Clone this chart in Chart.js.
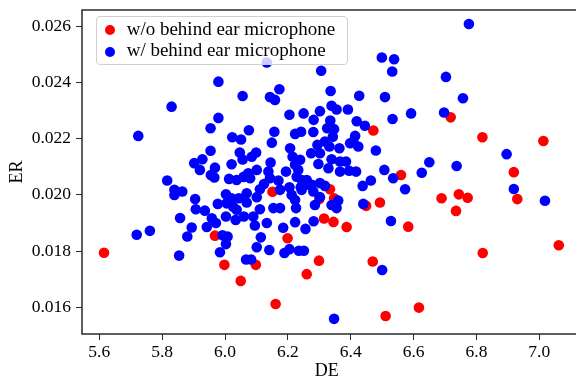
<!DOCTYPE html>
<html>
<head>
<meta charset="utf-8">
<script src="https://cdn.jsdelivr.net/npm/chart.js@4.4.1/dist/chart.umd.min.js"></script>
<style>
   html, body { margin: 0; padding: 0; background: #fff; overflow: hidden; }
   #wrap { position: relative; width: 577px; height: 382px; }
   #scatterChart { display: block; width: 577px; height: 382px; }
   #legend {
      position: absolute; left: 96px; top: 16px; width: 252px; height: 49px;
      box-sizing: border-box; border: 1px solid #d0d0d0; border-radius: 4px;
      background: rgba(255, 255, 255, 0.8);
      font-family: "Liberation Serif", "Times New Roman", serif; font-size: 19px; color: #000;
   }
   .row { position: absolute; left: 0; height: 22px; line-height: 22px; white-space: nowrap; }
   .dot { position: absolute; left: 8px; top: 7.4px; width: 10px; height: 10px; border-radius: 50%; }
   .lbl { position: absolute; left: 29.7px; top: 0; }
</style>
</head>
<body>
<div id="wrap">
   <canvas id="scatterChart" width="577" height="382"></canvas>
   <div id="legend"></div>
</div>
<script>
// series names + colours
const seriesNames = ["w/o behind ear microphone", "w/ behind ear microphone"];
const seriesColors = ["#ff0000", "#0000ff"];

// ticks
const xTickValues = [5.6, 5.8, 6.0, 6.2, 6.4, 6.6, 6.8, 7.0];
const yTickValues = [0.016, 0.018, 0.020, 0.022, 0.024, 0.026];

// w/o behind ear microphone (red)
const deWithout = [6.718, 6.472, 6.560, 6.151, 6.334, 6.300, 6.347, 6.449, 6.493, 6.315, 6.345, 6.387,
   6.583, 6.819, 7.013, 6.919, 6.689, 6.744, 6.772, 6.735, 6.930, 5.968, 5.615, 5.998, 6.050, 6.199,
   6.098, 6.299, 6.260, 6.470, 6.161, 6.511, 6.820, 7.062, 6.617];
const erWithout = [0.02276, 0.02229, 0.02071, 0.02011, 0.02020, 0.01985, 0.01988, 0.01961, 0.01973, 0.01916, 0.01904, 0.01886,
   0.01887, 0.02205, 0.02192, 0.02081, 0.01988, 0.02002, 0.01990, 0.01943, 0.01985, 0.01855, 0.01794, 0.01751, 0.01694, 0.01846,
   0.01751, 0.01766, 0.01718, 0.01763, 0.01612, 0.01569, 0.01793, 0.01821, 0.01599];

// w/ behind ear microphone (blue)
const deWith = [5.979, 6.056, 5.830, 5.979, 6.133, 6.306, 6.499, 6.538, 6.532, 6.173, 6.143, 6.159,
   6.336, 6.427, 6.509, 6.205, 6.250, 6.302, 6.339, 6.355, 6.391, 6.282, 6.335, 6.419, 6.533, 6.592,
   6.776, 6.703, 6.757, 6.697, 5.954, 5.724, 6.023, 6.076, 6.051, 5.954, 6.047, 6.056, 5.902, 5.928,
   5.920, 6.021, 5.968, 5.955, 5.966, 6.013, 6.037, 6.059, 6.080, 5.816, 5.839, 5.864, 5.839, 5.905,
   6.003, 6.021, 6.044, 5.977, 6.005, 6.026, 6.037, 5.907, 5.936, 5.857, 5.958, 5.971, 6.003, 6.034,
   5.894, 5.942, 5.761, 6.060, 6.157, 6.223, 6.242, 6.281, 6.325, 6.347, 6.343, 6.414, 6.408, 6.424,
   6.398, 6.445, 6.149, 6.294, 6.318, 6.332, 6.364, 6.480, 6.207, 6.274, 6.302, 6.215, 6.239, 6.339,
   6.366, 6.385, 6.099, 6.085, 6.145, 6.297, 6.329, 6.366, 6.395, 6.417, 6.223, 6.233, 6.194, 6.138,
   6.101, 6.074, 6.143, 6.170, 6.228, 6.244, 6.260, 6.507, 6.535, 6.464, 6.438, 6.573, 6.124, 6.111,
   6.175, 6.205, 6.241, 6.260, 6.276, 6.302, 6.318, 6.244, 6.281, 6.069, 6.101, 6.212, 6.223, 6.302,
   6.286, 6.339, 6.360, 6.355, 6.111, 6.069, 6.154, 6.175, 6.226, 6.440, 6.090, 6.133, 6.185, 6.223,
   6.256, 6.282, 6.528, 6.095, 6.896, 6.650, 6.737, 6.626, 6.919, 7.018, 5.719, 5.880, 5.992, 6.008,
   6.003, 5.984, 5.854, 6.114, 6.101, 6.141, 6.189, 6.205, 6.235, 6.251, 6.067, 6.083, 6.500, 6.347];
const erWith = [0.02403, 0.02352, 0.02314, 0.02274, 0.02471, 0.02442, 0.02489, 0.02483, 0.02439, 0.02376, 0.02348, 0.02338,
   0.02370, 0.02353, 0.02348, 0.02285, 0.02290, 0.02298, 0.02317, 0.02304, 0.02304, 0.02267, 0.02265, 0.02262, 0.02270, 0.02290,
   0.02608, 0.02420, 0.02344, 0.02293, 0.02237, 0.02210, 0.02205, 0.02230, 0.02197, 0.02157, 0.02151, 0.02126, 0.02113, 0.02127,
   0.02089, 0.02109, 0.02097, 0.02071, 0.02062, 0.02057, 0.02053, 0.02064, 0.02059, 0.02051, 0.02018, 0.02012, 0.02000, 0.01985,
   0.02002, 0.01988, 0.01988, 0.01968, 0.01970, 0.01958, 0.01947, 0.01949, 0.01944, 0.01918, 0.01917, 0.01900, 0.01923, 0.01911,
   0.01884, 0.01886, 0.01872, 0.01923, 0.02225, 0.02217, 0.02225, 0.02224, 0.02237, 0.02234, 0.02207, 0.02210, 0.02190, 0.02172,
   0.02184, 0.02246, 0.02186, 0.02178, 0.02190, 0.02172, 0.02166, 0.02158, 0.02166, 0.02148, 0.02148, 0.02136, 0.02125, 0.02127,
   0.02119, 0.02119, 0.02151, 0.02136, 0.02115, 0.02110, 0.02095, 0.02083, 0.02086, 0.02083, 0.02107, 0.02089, 0.02083, 0.02083,
   0.02089, 0.02077, 0.02059, 0.02051, 0.02065, 0.02053, 0.02053, 0.02089, 0.02059, 0.02051, 0.02032, 0.02020, 0.02039, 0.02020,
   0.02018, 0.02027, 0.02027, 0.02036, 0.02036, 0.02042, 0.02032, 0.02018, 0.02012, 0.02006, 0.01992, 0.02000, 0.01982, 0.01992,
   0.01964, 0.01964, 0.01980, 0.01953, 0.01949, 0.01973, 0.01953, 0.01953, 0.01953, 0.01968, 0.01923, 0.01900, 0.01883, 0.01903,
   0.01879, 0.01906, 0.01907, 0.01891, 0.02145, 0.02116, 0.02103, 0.02079, 0.02021, 0.01979, 0.01858, 0.01852, 0.01856, 0.01852,
   0.01825, 0.01796, 0.01784, 0.01849, 0.01814, 0.01804, 0.01793, 0.01807, 0.01801, 0.01801, 0.01770, 0.01770, 0.01733, 0.01559];

const serif = "'Liberation Serif', 'Times New Roman', serif";
Chart.defaults.font.family = serif;
Chart.defaults.color = "#000";

const toPoints = (xs, ys) => xs.map((x, i) => ({ x: x, y: ys[i] }));

// wanted plot box (pixels) and where the end ticks should land
const AREA = { left: 82, top: 10, right: 576, bottom: 334 };
const TICK_PX = { x0: 99.3, x1: 539.3 };

// left/top/bottom spines (no right spine in the original)
const frame = {
   id: "frame",
   afterDatasetsDraw(chart) {
      const { ctx, chartArea: a } = chart;
      ctx.save();
      ctx.strokeStyle = "#2a2a2a";
      ctx.lineWidth = 1.5;
      ctx.beginPath();
      ctx.moveTo(AREA.right, a.top);
      ctx.lineTo(a.left, a.top);
      ctx.lineTo(a.left, a.bottom);
      ctx.lineTo(AREA.right, a.bottom);
      ctx.stroke();
      ctx.restore();
   },
};

const chart = new Chart(document.getElementById("scatterChart"), {
   type: "scatter",
   data: {
      datasets: [
         {
            label: seriesNames[0],
            data: toPoints(deWithout, erWithout),
            backgroundColor: seriesColors[0],
            pointRadius: 5.3,
            pointHoverRadius: 5.3,
            borderWidth: 0,
            order: 1,
         },
         {
            label: seriesNames[1],
            data: toPoints(deWith, erWith),
            backgroundColor: seriesColors[1],
            pointRadius: 5.3,
            pointHoverRadius: 5.3,
            borderWidth: 0,
            order: 0,
         },
      ],
   },
   options: {
      responsive: false,
      animation: false,
      devicePixelRatio: 1,
      layout: { padding: { top: AREA.top, right: 577 - AREA.right, bottom: 0, left: 0 } },
      plugins: { legend: { display: false }, tooltip: { enabled: false } },
      scales: {
         x: {
            type: "linear",
            min: 5.545,
            max: 7.117,
            afterBuildTicks: (s) => { s.ticks = xTickValues.map((v) => ({ value: v })); },
            afterFit: (s) => { s.height = 382 - AREA.bottom; s.paddingLeft = 0; s.paddingRight = 0; },
            grid: { drawOnChartArea: false, drawTicks: true, tickLength: 6, color: "#2a2a2a" },
            border: { display: false },
            ticks: { padding: 2, autoSkip: false, maxRotation: 0, font: { size: 17.5 }, callback: (v) => v.toFixed(1) },
            title: { display: true, text: "DE", font: { size: 18 }, padding: { top: 0, bottom: 0 } },
         },
         y: {
            type: "linear",
            min: 0.01505,
            max: 0.02658,
            afterBuildTicks: (s) => { s.ticks = yTickValues.map((v) => ({ value: v })); },
            afterFit: (s) => { s.width = AREA.left; s.paddingTop = 0; s.paddingBottom = 0; },
            grid: { drawOnChartArea: false, drawTicks: true, tickLength: 6, color: "#2a2a2a" },
            border: { display: false },
            ticks: { padding: 5, autoSkip: false, font: { size: 17.5 }, callback: (v) => v.toFixed(3) },
            title: { display: true, text: "ER", font: { size: 18 }, padding: { top: 6, bottom: 0 } },
         },
      },
   },
   plugins: [frame],
});

// re-fit x range so 5.6 and 7.0 land where the original puts them
for (let k = 0; k < 3; k++) {
   const xs = chart.scales.x;
   const p0 = xs.getPixelForValue(xTickValues[0]);
   const p1 = xs.getPixelForValue(xTickValues[xTickValues.length - 1]);
   if (Math.abs(p0 - TICK_PX.x0) < 0.3 && Math.abs(p1 - TICK_PX.x1) < 0.3) break;
   const perPx = (xTickValues[xTickValues.length - 1] - xTickValues[0]) / (TICK_PX.x1 - TICK_PX.x0);
   chart.options.scales.x.min = xTickValues[0] - (TICK_PX.x0 - xs.left) * perPx;
   chart.options.scales.x.max = xTickValues[0] + (xs.right - TICK_PX.x0) * perPx;
   chart.options.plugins.clip = false;
   chart.update();
}

// legend box inside the plot, drawn over the points
const legendBox = document.getElementById("legend");
const rowTops = [0.6, 22.3];
seriesNames.forEach((name, i) => {
   const row = document.createElement("div");
   row.className = "row";
   row.style.top = rowTops[i] + "px";
   row.innerHTML = '<span class="dot" style="background:' + seriesColors[i] + '"></span><span class="lbl"></span>';
   row.querySelector(".lbl").textContent = name;
   legendBox.appendChild(row);
});
</script>
</body>
</html>
